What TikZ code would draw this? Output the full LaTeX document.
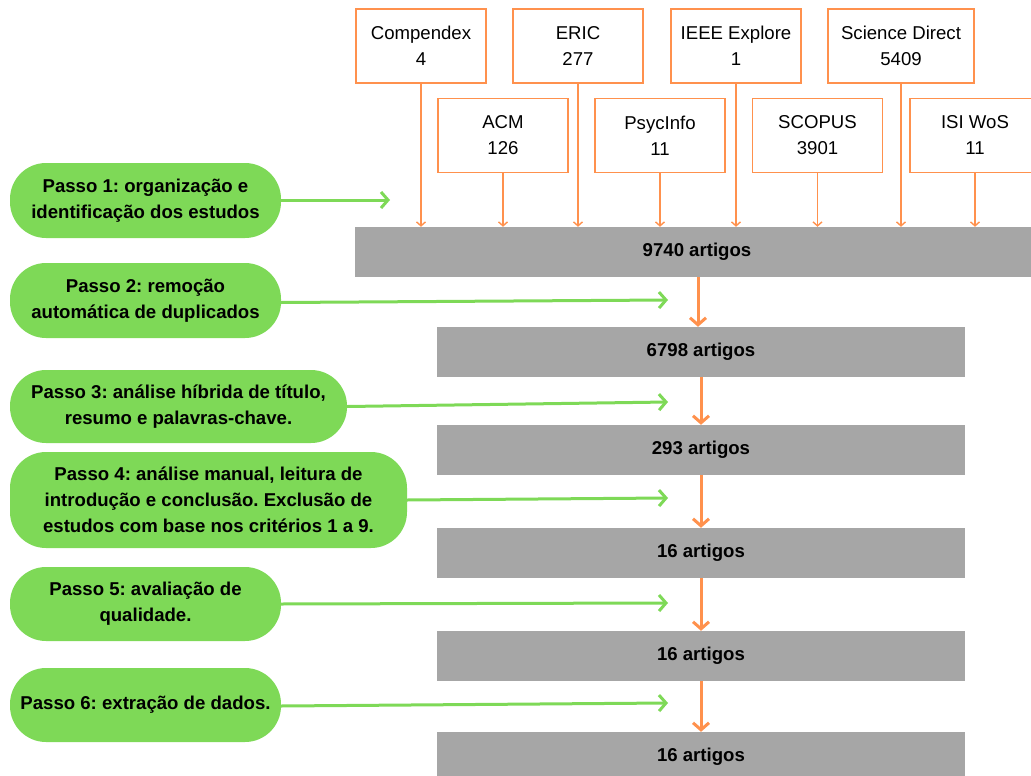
\documentclass[tikz,border=0pt]{standalone}
\usepackage{fontspec}
\setmainfont{Liberation Sans}
\usetikzlibrary{arrows.meta}
\definecolor{cgreen}{HTML}{7ED957}
\definecolor{corange}{HTML}{FF914D}
\definecolor{cgray}{HTML}{A6A6A6}
\frenchspacing
\tikzset{
  src/.style={draw=corange, line width=1.6pt, fill=white, minimum width=130pt, minimum height=74pt, align=center, inner sep=0pt, font=\fontsize{18.6}{26}\selectfont},
  gbox/.style={fill=cgray, minimum height=50pt, inner sep=0pt, font=\bfseries\fontsize{18.6}{26}\selectfont},
  passo/.style={fill=cgreen, rounded corners=36pt, inner sep=0pt, align=center, font=\bfseries\fontsize{18.6}{26}\selectfont},
  thinarr/.style={draw=corange, line width=1.4pt, -{Straight Barb[length=4pt,width=9pt,line width=1.4pt]}},
  thickarr/.style={draw=corange, line width=3pt, -{Straight Barb[length=7pt,width=16pt,line width=3pt]}},
  grarr/.style={draw=cgreen, line width=3pt, -{Straight Barb[length=7pt,width=16pt,line width=3pt]}},
}
\begin{document}
\begin{tikzpicture}[x=1pt,y=-1pt]
\useasboundingbox (0,0) rectangle (1031,776);
\clip (0,0) rectangle (1031,776);
% source boxes
\node[src] (comp) at (421,46) {Compendex\\4};
\node[src] (eric) at (578,46) {ERIC\\277};
\node[src] (ieee) at (736,46) {IEEE Explore\\1};
\node[src, minimum width=146pt] (sd) at (901,46) {Science Direct\\5409};
\node[src] (acm) at (503,135.5) {ACM\\126};
\node[src] (psy) at (660,135.5) {PsycInfo\\11};
\node[src] (scop) at (817.5,135.5) {SCOPUS\\3901};
\node[src] (isi) at (975,135.5) {ISI WoS\\11};
% gray boxes
\node[gbox, minimum width=684pt] (g1) at (697,252) {9740 artigos};
\node[gbox, minimum width=528pt] (g2) at (701,352) {6798 artigos};
\node[gbox, minimum width=528pt] (g3) at (701,450) {293 artigos};
\node[gbox, minimum width=528pt] (g4) at (701,553) {16 artigos};
\node[gbox, minimum width=528pt] (g5) at (701,656) {16 artigos};
\node[gbox, minimum width=528pt] (g6) at (701,757) {16 artigos};
% green steps
\node[passo, minimum width=271pt, minimum height=75pt] (p1) at (145.5,200.5) {Passo 1: organização e\\identificação dos estudos};
\node[passo, minimum width=271pt, minimum height=75pt] (p2) at (145.5,300.5) {Passo 2: remoção\\automática de duplicados};
\node[passo, minimum width=337pt, minimum height=73pt] (p3) at (178.5,406.5) {Passo 3: análise híbrida de título,\\resumo e palavras-chave.};
\node[passo, minimum width=397pt, minimum height=96pt] (p4) at (208.5,500) {Passo 4: análise manual, leitura de\\introdução e conclusão. Exclusão de\\estudos com base nos critérios 1 a 9.};
\node[passo, minimum width=271pt, minimum height=74pt] (p5) at (145.5,604) {Passo 5: avaliação de\\qualidade.};
\node[passo, minimum width=271pt, minimum height=74pt] (p6) at (145.5,705) {Passo 6: extração de dados.};
% source arrows
\foreach \s in {comp,eric,ieee,sd,acm,psy,scop,isi}
  \draw[thinarr] (\s.south) -- (\s.south |- g1.north);
% flow arrows
\draw[thickarr] (g2.north |- g1.south) ++(-3,0) coordinate (t1) -- (t1 |- g2.north);
\draw[thickarr] (g2.south) -- (g3.north);
\draw[thickarr] (g3.south) -- (g4.north);
\draw[thickarr] (g4.south) -- (g5.north);
\draw[thickarr] (g5.south) -- (g6.north);
% green arrows
\coordinate (a1) at (390,200);
\coordinate (a2) at (668,300);
\coordinate (a3) at (668,402);
\coordinate (a4) at (668,498);
\coordinate (a5) at (668,603);
\coordinate (a6) at (668,703);
\draw[grarr] (p1.east |- 0,200) -- (a1);
\draw[grarr] ([yshift=-2pt]p2.east) -- (a2);
\draw[grarr] (p3.east) -- (a3);
\draw[grarr] (p4.east) -- (a4);
\draw[grarr] (p5.east) -- (a5);
\draw[grarr] ([yshift=-1pt]p6.east) -- (a6);
\end{tikzpicture}
\end{document}
